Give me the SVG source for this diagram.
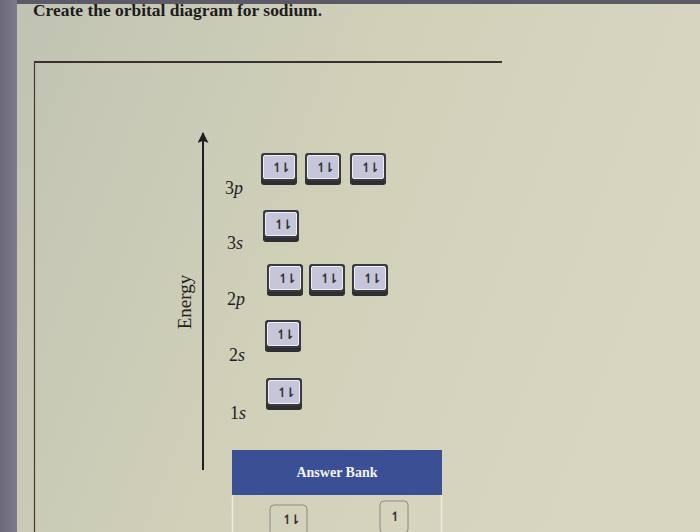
<svg xmlns="http://www.w3.org/2000/svg" width="700" height="532" viewBox="0 0 700 532">
<defs>
<linearGradient id="bg" x1="0" y1="0" x2="1" y2="0.3">
<stop offset="0" stop-color="#c0c2b2"/>
<stop offset="0.5" stop-color="#d0d0b9"/>
<stop offset="1" stop-color="#d8d6c0"/>
</linearGradient>
<linearGradient id="strip" x1="0" y1="0" x2="1" y2="0">
<stop offset="0" stop-color="#6c6a7a"/>
<stop offset="1" stop-color="#7c7b88"/>
</linearGradient>
<marker id="ah" viewBox="0 0 10 10" refX="9" refY="5" markerWidth="16" markerHeight="11" markerUnits="userSpaceOnUse" orient="auto">
<path d="M0,0 L10,5 L0,10 L2,5 Z" fill="#1e1e22"/>
</marker>
<g id="orb">
<rect x="0" y="2" width="36" height="30" rx="3" fill="#2e2e33"/>
<rect x="0" y="0" width="36" height="28" rx="3" fill="#3a3a40"/>
<rect x="2.5" y="2.5" width="31" height="23" rx="1.5" fill="#c5c6da" stroke="#eeeef4" stroke-width="1"/>
<text x="19" y="19" class="arr">↿⇂</text>
</g>
</defs>
<style>
.lbl{font-family:"Liberation Serif","Times New Roman",serif;font-size:18px;fill:#222}
.arr{font-family:"DejaVu Sans",sans-serif;font-size:13px;font-weight:bold;fill:#333;text-anchor:middle;letter-spacing:-3px}
.bank{fill:none;stroke:#8a8a86;stroke-width:1}
</style>
<rect x="0" y="0" width="700" height="532" fill="url(#bg)"/>
<rect x="0" y="0" width="700" height="4" fill="#5c5a66"/>
<rect x="0" y="0" width="17" height="532" fill="url(#strip)"/>
<text x="33" y="16" font-family="Liberation Serif, Times New Roman, serif" font-size="17" font-weight="bold" fill="#1c1c1c" textLength="289" lengthAdjust="spacingAndGlyphs">Create the orbital diagram for sodium.</text>
<g id="card">
<line x1="34" y1="62" x2="502" y2="62" stroke="#3a3030" stroke-width="2"/>
<line x1="34.5" y1="62" x2="34.5" y2="532" stroke="#4a3530" stroke-width="1.2"/>
</g>
<g id="connectors">
<line x1="203" y1="470" x2="203" y2="133" stroke="#1e1e22" stroke-width="2" marker-end="url(#ah)"/>
</g>
<g id="energy">
<text transform="translate(191,302) rotate(-90)" text-anchor="middle" font-family="Liberation Serif, Times New Roman, serif" font-size="19" fill="#222">Energy</text>
</g>
<g id="n3p">
<text x="225" y="194" class="lbl">3<tspan font-style="italic">p</tspan></text>
<use href="#orb" x="261" y="153"/>
<use href="#orb" x="305" y="153"/>
<use href="#orb" x="350" y="153"/>
</g>
<g id="n3s">
<text x="227" y="249" class="lbl">3<tspan font-style="italic">s</tspan></text>
<use href="#orb" x="263" y="210"/>
</g>
<g id="n2p">
<text x="227" y="305" class="lbl">2<tspan font-style="italic">p</tspan></text>
<use href="#orb" x="267" y="264"/>
<use href="#orb" x="309" y="264"/>
<use href="#orb" x="352" y="264"/>
</g>
<g id="n2s">
<text x="229" y="361" class="lbl">2<tspan font-style="italic">s</tspan></text>
<use href="#orb" x="265" y="320"/>
</g>
<g id="n1s">
<text x="230" y="419" class="lbl">1<tspan font-style="italic">s</tspan></text>
<use href="#orb" x="266" y="378"/>
</g>
<g id="answerbank">
<rect x="232" y="450" width="210" height="45" fill="#3b4f94"/>
<text x="337" y="477" text-anchor="middle" font-family="Liberation Serif, Times New Roman, serif" font-size="14" font-weight="bold" fill="#f4f4f4">Answer Bank</text>
<line x1="232.5" y1="495" x2="232.5" y2="532" stroke="#ecebe2" stroke-width="1.5"/>
<line x1="441.5" y1="495" x2="441.5" y2="532" stroke="#ecebe2" stroke-width="1.5"/>
</g>
<g id="bank1">
<rect x="270" y="505" width="37" height="32" rx="4" class="bank"/>
<text x="290" y="524" class="arr" font-weight="normal" fill="#555">↿⇂</text>
</g>
<g id="bank2">
<rect x="380" y="501" width="28" height="32" rx="4" class="bank"/>
<text x="394" y="521" class="arr" font-weight="normal" fill="#555">↿</text>
</g>
</svg>
